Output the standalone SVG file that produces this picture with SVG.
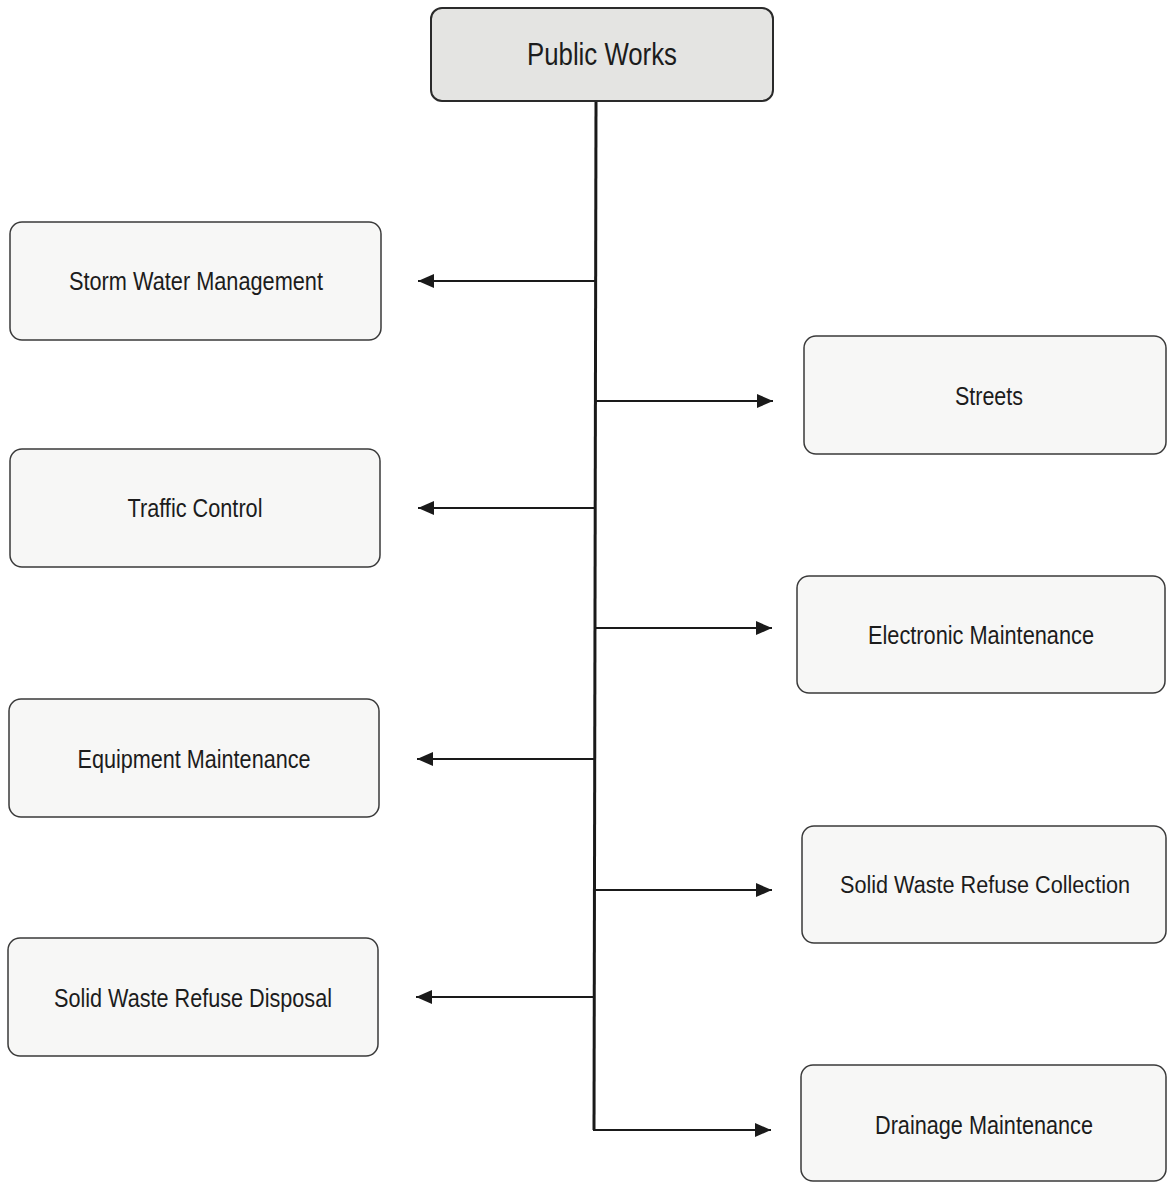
<svg xmlns="http://www.w3.org/2000/svg" width="1167" height="1182" viewBox="0 0 1167 1182">
  <style>
    .box { fill: #f7f7f6; stroke: #3a3a3a; stroke-width: 1.5; }
    .head { fill: #e4e4e2; stroke: #2a2a2a; stroke-width: 2; }
    .lbl { font-family: "Liberation Sans", Arial, sans-serif; font-size: 25px; fill: #1c1c1c; text-anchor: middle; }
    .title { font-size: 31px; }
    .long { font-size: 23px; }
    .trunk { fill: none; stroke: #1a1a1a; stroke-width: 3; }
    .branch { fill: none; stroke: #1a1a1a; stroke-width: 2; marker-end: url(#tip); }
  </style>
  <defs>
    <marker id="tip" markerUnits="userSpaceOnUse" markerWidth="16" markerHeight="14" viewBox="0 0 16 14" refX="16" refY="7" orient="auto">
      <path d="M0,0 L16,7 L0,14 Z" fill="#1a1a1a"/>
    </marker>
  </defs>
  <rect width="1167" height="1182" fill="#ffffff"/>

  <!-- connectors -->
  <g id="connectors">
    <path class="trunk" d="M596,101 L594,1130"/>
    <path class="branch" d="M595,281 L418,281"/>
    <path class="branch" d="M595,508 L418,508"/>
    <path class="branch" d="M594,759 L417,759"/>
    <path class="branch" d="M594,997 L416,997"/>
    <path class="branch" d="M595,401 L773,401"/>
    <path class="branch" d="M595,628 L772,628"/>
    <path class="branch" d="M594,890 L772,890"/>
    <path class="branch" d="M593,1130 L771,1130"/>
  </g>

  <!-- root -->
  <g id="public-works">
    <rect class="head" x="431" y="8" width="342" height="93" rx="11"/>
    <text class="lbl title" x="602" y="65" textLength="150" lengthAdjust="spacingAndGlyphs">Public Works</text>
  </g>

  <!-- left column -->
  <g id="storm-water">
    <rect class="box" x="10" y="222" width="371" height="118" rx="12"/>
    <text class="lbl" x="196" y="290" textLength="254" lengthAdjust="spacingAndGlyphs">Storm Water Management</text>
  </g>
  <g id="traffic-control">
    <rect class="box" x="10" y="449" width="370" height="118" rx="12"/>
    <text class="lbl" x="195" y="517" textLength="135" lengthAdjust="spacingAndGlyphs">Traffic Control</text>
  </g>
  <g id="equipment-maintenance">
    <rect class="box" x="9" y="699" width="370" height="118" rx="12"/>
    <text class="lbl" x="194" y="768" textLength="233" lengthAdjust="spacingAndGlyphs">Equipment Maintenance</text>
  </g>
  <g id="refuse-disposal">
    <rect class="box" x="8" y="938" width="370" height="118" rx="12"/>
    <text class="lbl" x="193" y="1007" textLength="278" lengthAdjust="spacingAndGlyphs">Solid Waste Refuse Disposal</text>
  </g>

  <!-- right column -->
  <g id="streets">
    <rect class="box" x="804" y="336" width="362" height="118" rx="12"/>
    <text class="lbl" x="989" y="405" textLength="68" lengthAdjust="spacingAndGlyphs">Streets</text>
  </g>
  <g id="electronic-maintenance">
    <rect class="box" x="797" y="576" width="368" height="117" rx="12"/>
    <text class="lbl" x="981" y="644" textLength="226" lengthAdjust="spacingAndGlyphs">Electronic Maintenance</text>
  </g>
  <g id="refuse-collection">
    <rect class="box" x="802" y="826" width="364" height="117" rx="12"/>
    <text class="lbl long" x="985" y="893" textLength="290" lengthAdjust="spacingAndGlyphs">Solid Waste Refuse Collection</text>
  </g>
  <g id="drainage-maintenance">
    <rect class="box" x="801" y="1065" width="365" height="116" rx="12"/>
    <text class="lbl" x="984" y="1134" textLength="218" lengthAdjust="spacingAndGlyphs">Drainage Maintenance</text>
  </g>
</svg>
